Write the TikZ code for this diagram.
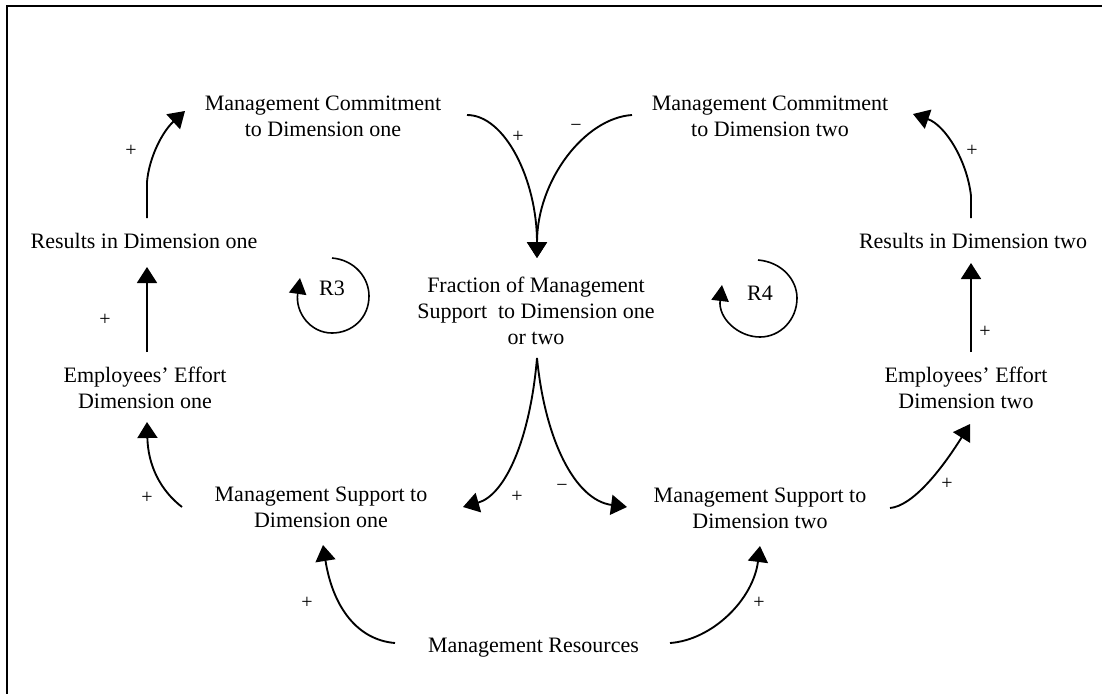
\documentclass[tikz,border=0pt]{standalone}
\usepackage{fontspec}
\setmainfont{Liberation Serif}
\usetikzlibrary{arrows.meta,calc}
\begin{document}
\begin{tikzpicture}[x=0.75pt,y=-0.75pt,
  var/.style={align=center,inner sep=0pt,font=\fontsize{16.5}{19.5}\selectfont},
  link/.style={line width=1.4pt,-{Triangle[length=12pt,width=15pt]}},
  loopline/.style={line width=1.2pt,-{Triangle[length=12pt,width=13pt]}},
  sign/.style={inner sep=0pt,font=\fontsize{15}{17}\selectfont}]
\useasboundingbox (0,0) rectangle (1102,694);
% frame
\draw[line width=1.7pt] (1102,6) -- (7,6) -- (7,694);

% variables
\node[var] (mc1) at (323,116.5) {Management Commitment\\to Dimension one};
\node[var] (mc2) at (770,116.5) {Management Commitment\\to Dimension two};
\node[var,anchor=base] (res1) at (144,248) {Results in Dimension one};
\node[var,anchor=base] (res2) at (973,248) {Results in Dimension two};
\node[var] (emp1) at (145,387.5) {Employees’ Effort\\Dimension one};
\node[var] (emp2) at (966,387.5) {Employees’ Effort\\Dimension two};
\node[var] (frac) at (536,311) {Fraction of Management\\Support~ to Dimension one\\or two};
\node[var] (ms1) at (321,507.5) {Management Support to\\Dimension one};
\node[var] (ms2) at (760,508.5) {Management Support to\\Dimension two};
\node[var,anchor=base] (mr) at (533.5,652) {Management Resources};
\node[var] (r3) at (332,288) {R3};
\node[var] (r4) at (760,293) {R4};

% causal links
\draw[link] ([shift={(3,-30)}]res1.base) -- (147,182)
  .. controls (149,158) and (162,132) .. ([shift={(-138,-5.5)}]mc1.center);
\draw[link] ([shift={(2,-35.5)}]emp1.center) -- ([shift={(3,19)}]res1.base);
\draw[link] ([shift={(-139,-0.5)}]ms1.center)
  .. controls (160,490) and (148,465) .. ([shift={(2,34.5)}]emp1.center);
\draw[link] ([shift={(-138.5,-9)}]mr.base)
  .. controls (358,640) and (333,608) .. ([shift={(2,37.5)}]ms1.center);
\draw[link] ([shift={(1,47)}]frac.center)
  .. controls (530,440) and (505,495) .. ([shift={(142,-0.5)}]ms1.center);
\draw[link] ([shift={(1,47)}]frac.center)
  .. controls (545,440) and (575,500) .. ([shift={(-133,-1.5)}]ms2.center);
\draw[link] ([shift={(144,-1.5)}]mc1.center)
  .. controls (505,115) and (537,180) .. ([shift={(1,-53)}]frac.center);
\draw[link] ([shift={(-138,-1.5)}]mc2.center)
  .. controls (585,118) and (537,180) .. ([shift={(1,-53)}]frac.center);
\draw[link] ([shift={(130,-0.5)}]ms2.center)
  .. controls (912,506) and (940,472) .. ([shift={(4,36.5)}]emp2.center);
\draw[link] ([shift={(136.5,-9)}]mr.base)
  .. controls (712,640) and (753,600) .. ([shift={(0,37.5)}]ms2.center);
\draw[link] ([shift={(5,-35.5)}]emp2.center) -- ([shift={(-2,15)}]res2.base);
\draw[link] ([shift={(-2,-30)}]res2.base) -- (971,196)
  .. controls (967,160) and (945,125) .. ([shift={(143,-2.5)}]mc2.center);

% loop markers
\draw[loopline] ([shift={(0,-30)}]r3.center)
  .. controls (355,260) and (369,278) .. (369,296)
  .. controls (369,318) and (352,333) .. (332,333)
  .. controls (310,333) and (295,312) .. ([shift={(-32,-10)}]r3.center);
\draw[loopline] ([shift={(-2,-33)}]r4.center)
  .. controls (782,262) and (797,280) .. (797,298)
  .. controls (797,320) and (780,337) .. (760,337)
  .. controls (738,337) and (718,318) .. ([shift={(-38,-8)}]r4.center);

% polarities
\node[sign] (s1) at (131,151) {+};
\node[sign] (s2) at (105,320) {+};
\node[sign] (s3) at (147,498) {+};
\node[sign] (s4) at (307,603) {+};
\node[sign] (s5) at (517,497) {+};
\node[sign] (s6) at (562,488) {−};
\node[sign] (s7) at (759,603) {+};
\node[sign] (s8) at (947,484) {+};
\node[sign] (s9) at (985,332) {+};
\node[sign] (s10) at (972,151) {+};
\node[sign] (s11) at (518,137) {+};
\node[sign] (s12) at (576,128) {−};
\end{tikzpicture}
\end{document}
